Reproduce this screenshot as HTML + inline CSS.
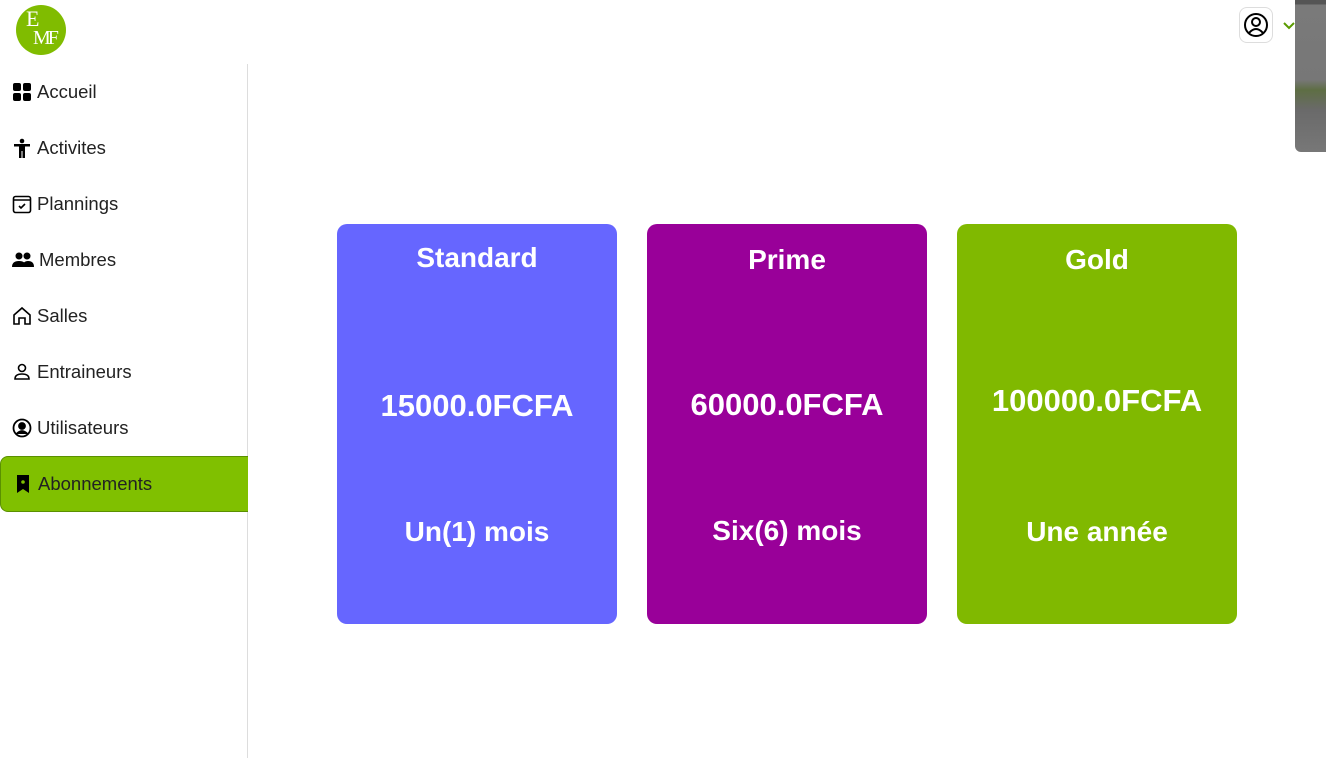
<!DOCTYPE html>
<html><head><meta charset="utf-8"><style>
body{margin:0;width:1326px;height:758px;background:#fff;font-family:"Liberation Sans",sans-serif;position:relative;overflow:hidden}
.logo{position:absolute;left:16px;top:5px;width:50px;height:50px;border-radius:50%;background:#80bc00;color:#fff;font-family:"Liberation Serif",serif;overflow:hidden}
.side{position:absolute;left:247px;top:64px;width:1px;height:694px;background:#ddd}
.item{position:absolute;left:0;width:248px;height:56px;font-size:18.5px;color:#222;display:flex;align-items:center}
.item svg{margin-left:12px;margin-right:5px}
.act{background:#80c000;border-radius:8px 0 0 8px;border:1px solid #5a9000;border-right:none;box-sizing:border-box}
.card{position:absolute;top:224px;width:280px;height:400px;border-radius:10px;color:#fff;font-weight:bold;text-align:center}
.card div{position:absolute;left:0;right:0}
.t{font-size:28px}.p{font-size:31px}.d{font-size:28px}
</style></head><body>
<div class="logo"><span style="position:absolute;left:10px;top:1px;font-size:22px">E</span><span style="position:absolute;left:17px;top:22px;font-size:20px;letter-spacing:-3px">MF</span></div>
<div class="side"></div>
<div class="item" style="top:64px"><svg width="20" height="20"><rect x="1" y="1" width="8" height="8" rx="2"/><rect x="11" y="1" width="8" height="8" rx="2"/><rect x="1" y="11" width="8" height="8" rx="2"/><rect x="11" y="11" width="8" height="8" rx="2"/></svg>Accueil</div>
<div class="item" style="top:120px"><svg width="20" height="20"><circle cx="10" cy="3" r="2.3"/><rect x="2" y="6" width="16" height="2.5"/><rect x="7" y="7" width="6" height="6"/><rect x="7" y="12" width="2.5" height="8"/><rect x="10.5" y="12" width="2.5" height="8"/></svg>Activites</div>
<div class="item" style="top:176px"><svg width="20" height="20" fill="none" stroke="#000" stroke-width="1.6"><rect x="1.5" y="2.5" width="17" height="16" rx="2"/><line x1="1.5" y1="6" x2="18.5" y2="6"/><path d="M7 12l2 2 4-4"/></svg>Plannings</div>
<div class="item" style="top:232px"><svg width="22" height="20"><circle cx="7" cy="6" r="3.5"/><circle cx="15" cy="6" r="3.5"/><path d="M0 17q0-6 7-6t7 6zM10 17q1-6 6-6 6 0 6 6z"/></svg>Membres</div>
<div class="item" style="top:288px"><svg width="20" height="20" fill="none" stroke="#000" stroke-width="1.6"><path d="M2 9l8-7 8 7v9h-5v-6h-6v6H2z"/></svg>Salles</div>
<div class="item" style="top:344px"><svg width="20" height="20" fill="none" stroke="#000" stroke-width="1.6"><circle cx="10" cy="6" r="3.5"/><path d="M3 17q0-5 7-5t7 5z"/></svg>Entraineurs</div>
<div class="item" style="top:400px"><svg width="20" height="20" fill="none" stroke="#000" stroke-width="1.8"><circle cx="10" cy="10" r="8.5"/><circle cx="10" cy="8" r="3" fill="#000"/><path d="M4.5 16q5.5-6 11 0" fill="#000"/></svg>Utilisateurs</div>
<div class="item act" style="top:456px;height:56px"><svg width="20" height="20"><path d="M4 1h12v18l-6-4-6 4z"/><circle cx="10" cy="8" r="1.8" fill="#80c000"/></svg>Abonnements</div>
<div style="position:absolute;left:1239px;top:7px;width:32px;height:34px;border:1px solid #ddd;border-radius:8px;background:#fff"><svg width="32" height="34" viewBox="0 0 32 34"><circle cx="16" cy="17" r="11" fill="none" stroke="#000" stroke-width="2"/><circle cx="16" cy="14" r="4" fill="none" stroke="#000" stroke-width="2"/><path d="M9 25q7-8 14 0" fill="none" stroke="#000" stroke-width="2"/></svg></div>
<svg style="position:absolute;left:1282px;top:20px" width="14" height="10"><path d="M2 3l5 5 5-5" fill="none" stroke="#5a9a00" stroke-width="2"/></svg>
<div style="position:absolute;left:1295px;top:0;width:31px;height:152px;background:linear-gradient(#555 0,#555 4px,#7a7a7a 5px,#777 80px,#5e6e44 90px,#6a6a6a 110px,#777 150px);border-radius:0 0 0 6px"></div>
<div class="card" style="left:337px;background:#6666ff"><div class="t" style="top:18px">Standard</div><div class="p" style="top:164px">15000.0FCFA</div><div class="d" style="top:292px">Un(1) mois</div></div>
<div class="card" style="left:647px;background:#990099"><div class="t" style="top:20px">Prime</div><div class="p" style="top:163px">60000.0FCFA</div><div class="d" style="top:291px">Six(6) mois</div></div>
<div class="card" style="left:957px;background:#80b900"><div class="t" style="top:20px">Gold</div><div class="p" style="top:159px">100000.0FCFA</div><div class="d" style="top:292px">Une année</div></div>
</body></html>
